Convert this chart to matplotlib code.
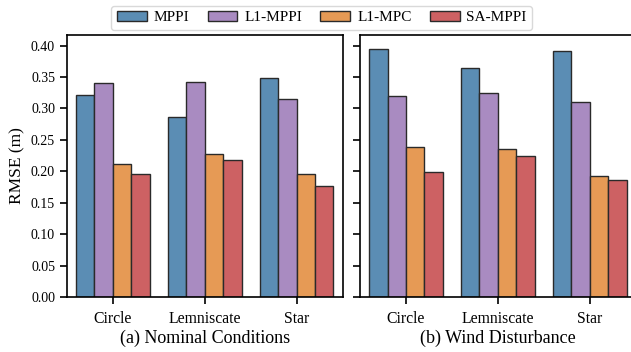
import numpy as np
import matplotlib.pyplot as plt

plt.rcParams['font.family'] = ['Liberation Serif', 'DejaVu Serif']

# RMSE per trajectory and controller
trajectories = ['Circle', 'Lemniscate', 'Star']
methods = ['MPPI', 'L1-MPPI', 'L1-MPC', 'SA-MPPI']
colors = ['#5b8db4', '#a98bc1', '#e69a55', '#cd6163']

nominal = {
    'MPPI':    [0.322, 0.286, 0.349],
    'L1-MPPI': [0.340, 0.342, 0.315],
    'L1-MPC':  [0.211, 0.227, 0.195],
    'SA-MPPI': [0.196, 0.218, 0.177],
}
wind = {
    'MPPI':    [0.395, 0.364, 0.391],
    'L1-MPPI': [0.319, 0.324, 0.310],
    'L1-MPC':  [0.238, 0.236, 0.193],
    'SA-MPPI': [0.199, 0.224, 0.186],
}
titles = ['(a) Nominal Conditions', '(b) Wind Disturbance']

fig = plt.figure(figsize=(6.31, 3.52), dpi=100)
ax1 = fig.add_axes([0.106, 0.156, 0.437, 0.745])
ax2 = fig.add_axes([0.5705, 0.156, 0.437, 0.745], sharey=ax1)

x = np.arange(len(trajectories))
width = 0.2
for ax, data, title in zip([ax1, ax2], [nominal, wind], titles):
    for i, m in enumerate(methods):
        ax.bar(x + (i - 1.5) * width, data[m], width, color=colors[i],
               edgecolor='#2a2a2a', linewidth=1.0, label=m)
    ax.set_xticks(x)
    ax.set_xticklabels(trajectories, fontsize=11.3)
    ax.set_xlim(-0.5, 2.5)
    ax.set_xlabel(title, fontsize=13, labelpad=2)
    ax.tick_params(axis='both', direction='out', length=5, width=1.2)
    ax.tick_params(axis='x', pad=5)
    for s in ax.spines.values():
        s.set_linewidth(1.2)

ax1.set_ylim(0, 0.417)
ax1.set_yticks(np.arange(0, 0.41, 0.05))
ax1.set_yticklabels(['%.2f' % v for v in np.arange(0, 0.41, 0.05)], fontsize=10)
ax1.set_ylabel('RMSE (m)', fontsize=12.5)
plt.setp(ax2.get_yticklabels(), visible=False)

handles, labels = ax1.get_legend_handles_labels()
fig.legend(handles, labels, loc='center', bbox_to_anchor=(0.51, 0.95), ncol=4,
           fontsize=11, frameon=True, edgecolor='#d0d0d0', fancybox=True,
           handlelength=1.96, handleheight=0.6, columnspacing=1.2,
           handletextpad=0.44, borderpad=0.35)

fig.savefig('out.png', dpi=100)
